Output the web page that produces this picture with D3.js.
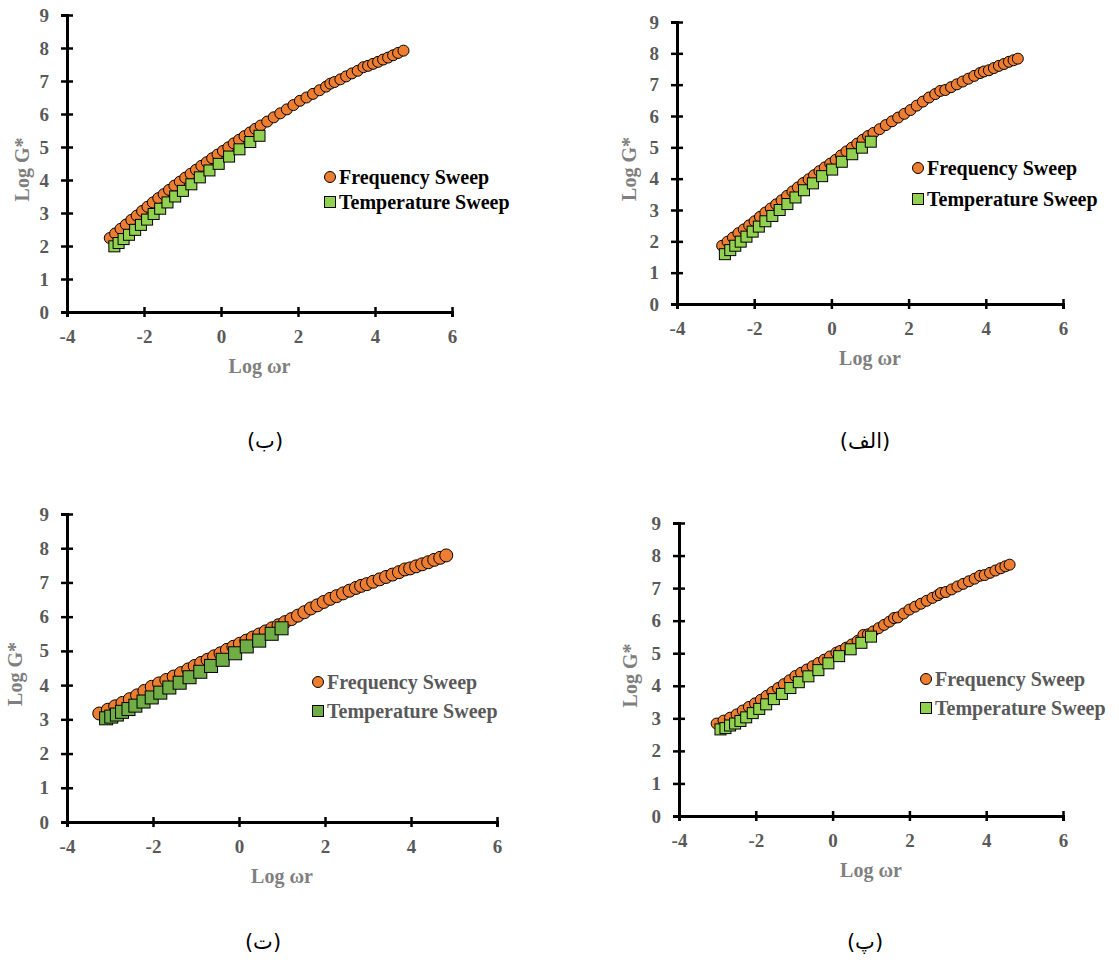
<!DOCTYPE html>
<html>
<head>
<meta charset="utf-8">
<script src="https://cdn.jsdelivr.net/npm/d3@7/dist/d3.min.js"></script>
<style>
  body { margin: 0; background: #fff; }
  svg { display: block; }
</style>
</head>
<body>
<svg id="chart" width="1119" height="965"></svg>
<script>
"use strict";

// ticks shared by all four panels
var xTicks = [-4, -2, 0, 2, 4, 6];
var yTicks = [0, 1, 2, 3, 4, 5, 6, 7, 8, 9];
var seriesNames = ["Frequency Sweep", "Temperature Sweep"];
var captions = ["(الف)", "(ب)", "(پ)", "(ت)"];

// panel (الف)
var alefFreqX = [-2.83, -2.69, -2.55, -2.41, -2.27, -2.13, -1.99, -1.85, -1.71, -1.57, -1.43, -1.29, -1.15, -1.01, -0.87, -0.73, -0.59, -0.45, -0.31, -0.17, -0.03, 0.11, 0.25, 0.39, 0.53, 0.67, 0.81, 0.95, 1.09, 1.25, 1.41, 1.57, 1.73, 1.89, 2.05, 2.21, 2.37, 2.53, 2.69, 2.82, 2.95, 3.10, 3.25, 3.40, 3.55, 3.70, 3.85, 3.95, 4.08, 4.21, 4.34, 4.47, 4.60, 4.72, 4.83];
var alefFreqY = [1.86, 1.99, 2.12, 2.26, 2.38, 2.51, 2.64, 2.78, 2.92, 3.05, 3.18, 3.31, 3.45, 3.59, 3.72, 3.86, 3.98, 4.11, 4.24, 4.36, 4.48, 4.60, 4.74, 4.87, 4.99, 5.12, 5.24, 5.36, 5.46, 5.58, 5.71, 5.83, 5.95, 6.07, 6.19, 6.33, 6.46, 6.59, 6.70, 6.80, 6.83, 6.92, 7.01, 7.10, 7.19, 7.28, 7.37, 7.42, 7.46, 7.53, 7.60, 7.66, 7.73, 7.78, 7.83];
var alefTempX = [-2.76, -2.62, -2.49, -2.35, -2.20, -2.04, -1.88, -1.71, -1.53, -1.34, -1.14, -0.93, -0.71, -0.48, -0.24, 0.02, 0.27, 0.54, 0.79, 1.02];
var alefTempY = [1.59, 1.72, 1.86, 1.99, 2.15, 2.31, 2.47, 2.64, 2.81, 3.00, 3.19, 3.40, 3.63, 3.85, 4.08, 4.29, 4.54, 4.78, 4.99, 5.18];

// panel (ب)
var beFreqX = [-2.89, -2.75, -2.61, -2.47, -2.33, -2.19, -2.05, -1.91, -1.77, -1.63, -1.49, -1.35, -1.21, -1.07, -0.93, -0.79, -0.65, -0.51, -0.37, -0.23, -0.09, 0.05, 0.19, 0.33, 0.47, 0.61, 0.75, 0.89, 1.03, 1.20, 1.37, 1.54, 1.71, 1.88, 2.05, 2.22, 2.39, 2.56, 2.73, 2.84, 2.95, 3.10, 3.25, 3.40, 3.55, 3.70, 3.82, 3.95, 4.08, 4.21, 4.34, 4.47, 4.60, 4.74];
var beFreqY = [2.24, 2.38, 2.52, 2.65, 2.79, 2.92, 3.06, 3.19, 3.32, 3.45, 3.57, 3.70, 3.83, 3.95, 4.07, 4.19, 4.31, 4.43, 4.54, 4.66, 4.77, 4.88, 4.99, 5.11, 5.22, 5.33, 5.44, 5.55, 5.65, 5.77, 5.90, 6.02, 6.14, 6.27, 6.40, 6.50, 6.61, 6.72, 6.83, 6.92, 6.97, 7.05, 7.14, 7.23, 7.31, 7.42, 7.46, 7.52, 7.58, 7.65, 7.71, 7.78, 7.85, 7.92];
var beTempX = [-2.77, -2.66, -2.53, -2.39, -2.23, -2.08, -1.92, -1.75, -1.58, -1.39, -1.19, -0.99, -0.77, -0.55, -0.30, -0.06, 0.21, 0.48, 0.76, 1.00];
var beTempY = [1.99, 2.09, 2.21, 2.34, 2.49, 2.64, 2.80, 2.97, 3.13, 3.32, 3.50, 3.67, 3.87, 4.08, 4.29, 4.49, 4.71, 4.93, 5.15, 5.34];

// panel (پ)
var peFreqX = [-3.02, -2.84, -2.67, -2.50, -2.34, -2.18, -2.02, -1.87, -1.72, -1.57, -1.42, -1.27, -1.12, -0.97, -0.82, -0.67, -0.52, -0.37, -0.22, -0.07, 0.10, 0.20, 0.35, 0.50, 0.65, 0.80, 0.92, 1.06, 1.20, 1.34, 1.48, 1.60, 1.70, 1.85, 2.00, 2.15, 2.30, 2.45, 2.60, 2.74, 2.82, 2.95, 3.10, 3.25, 3.40, 3.55, 3.70, 3.84, 3.96, 4.10, 4.24, 4.38, 4.50, 4.61];
var peFreqY = [2.84, 2.93, 3.02, 3.12, 3.24, 3.35, 3.46, 3.57, 3.69, 3.81, 3.93, 4.05, 4.17, 4.30, 4.40, 4.50, 4.60, 4.70, 4.80, 4.90, 5.02, 5.07, 5.17, 5.27, 5.38, 5.56, 5.58, 5.67, 5.77, 5.87, 5.97, 6.08, 6.10, 6.22, 6.34, 6.43, 6.52, 6.61, 6.70, 6.78, 6.85, 6.88, 6.96, 7.05, 7.13, 7.21, 7.29, 7.38, 7.40, 7.47, 7.54, 7.61, 7.67, 7.72];
var peTempX = [-2.92, -2.79, -2.67, -2.54, -2.40, -2.25, -2.08, -1.91, -1.73, -1.53, -1.32, -1.10, -0.88, -0.63, -0.37, -0.11, 0.17, 0.47, 0.75, 1.00];
var peTempY = [2.66, 2.70, 2.78, 2.84, 2.92, 3.03, 3.16, 3.29, 3.43, 3.59, 3.75, 3.93, 4.11, 4.29, 4.48, 4.69, 4.91, 5.12, 5.32, 5.51];

// panel (ت)
var teFreqX = [-3.25, -3.05, -2.88, -2.71, -2.54, -2.37, -2.20, -2.03, -1.86, -1.69, -1.52, -1.35, -1.18, -1.03, -0.88, -0.73, -0.58, -0.43, -0.28, -0.13, 0.02, 0.17, 0.32, 0.47, 0.62, 0.77, 0.92, 1.07, 1.22, 1.37, 1.52, 1.67, 1.82, 1.97, 2.12, 2.27, 2.42, 2.57, 2.72, 2.84, 2.97, 3.12, 3.27, 3.42, 3.57, 3.72, 3.86, 3.98, 4.12, 4.26, 4.40, 4.54, 4.68, 4.82];
var teFreqY = [3.17, 3.28, 3.38, 3.48, 3.59, 3.70, 3.83, 3.95, 4.05, 4.15, 4.25, 4.35, 4.46, 4.56, 4.65, 4.74, 4.84, 4.93, 5.03, 5.12, 5.21, 5.30, 5.39, 5.48, 5.57, 5.66, 5.75, 5.84, 5.93, 6.03, 6.13, 6.24, 6.33, 6.43, 6.52, 6.60, 6.68, 6.76, 6.84, 6.90, 6.95, 7.02, 7.09, 7.16, 7.23, 7.30, 7.38, 7.41, 7.47, 7.53, 7.59, 7.66, 7.72, 7.79];
var teTempX = [-3.09, -2.97, -2.84, -2.72, -2.57, -2.41, -2.22, -2.03, -1.83, -1.62, -1.38, -1.15, -0.90, -0.65, -0.38, -0.09, 0.18, 0.47, 0.76, 0.99];
var teTempY = [3.03, 3.08, 3.14, 3.22, 3.30, 3.40, 3.52, 3.64, 3.78, 3.93, 4.07, 4.23, 4.39, 4.56, 4.74, 4.93, 5.13, 5.30, 5.50, 5.66];

var svg = d3.select("#chart");
var serif = "'Liberation Serif', 'Times New Roman', serif";

function zip(xs, ys) {
    return xs.map(function(x, i) { return {x: x, y: ys[i]}; });
}

function drawPanel(p) {
    var x = d3.scaleLinear().domain([-4, 6]).range([p.left, p.right]);
    var y = d3.scaleLinear().domain([0, 9]).range([p.bottom, p.top]);
    var g = svg.append("g");
    var plain = function(d) { return String(d); };  // hyphen minus, like the original

    // axes (ticks cross the axis line like Excel)
    var gx = g.append("g").attr("transform", "translate(0," + p.bottom + ")")
        .call(d3.axisBottom(x).tickValues(xTicks).tickFormat(plain).tickSizeOuter(0).tickSize(5).tickPadding(13));
    var gy = g.append("g").attr("transform", "translate(" + p.left + ",0)")
        .call(d3.axisLeft(y).tickValues(yTicks).tickFormat(plain).tickSizeOuter(0).tickSize(6).tickPadding(12));
    gx.selectAll(".tick line").attr("y1", -5).attr("y2", 5);
    gy.selectAll(".tick line").attr("x1", -6).attr("x2", 6);
    [gx, gy].forEach(function(a) {
        a.attr("font-family", serif).attr("font-size", 19);
        a.select(".domain").attr("stroke", "#000").attr("stroke-width", 3);
        a.selectAll(".tick line").attr("stroke", "#000").attr("stroke-width", 2.5);
        a.selectAll(".tick text")
            .attr("fill", "#595959")
            .style("font-family", serif)
            .style("font-weight", "bold")
            .style("font-size", "19px");
    });

    // axis titles
    g.append("text")
        .attr("x", (p.left + p.right) / 2).attr("y", p.bottom + 61)
        .attr("text-anchor", "middle").attr("fill", "#7f7f7f")
        .style("font-family", serif).style("font-weight", "bold").style("font-size", "20px")
        .text("Log ωr");
    g.append("text")
        .attr("transform", "translate(" + (p.left - p.titleDx) + "," + ((p.top + p.bottom) / 2 + 6) + ") rotate(-90)")
        .attr("text-anchor", "middle").attr("dy", "0.35em").attr("fill", "#7f7f7f")
        .style("font-family", serif).style("font-weight", "bold").style("font-size", "20px")
        .text("Log G*");

    // data marks
    g.append("g").selectAll("circle").data(zip(p.freqX, p.freqY)).enter().append("circle")
        .attr("cx", function(d) { return x(d.x); })
        .attr("cy", function(d) { return y(d.y); })
        .attr("r", p.r)
        .attr("fill", "#ED7D31").attr("stroke", "#000").attr("stroke-width", 1);
    g.append("g").selectAll("rect").data(zip(p.tempX, p.tempY)).enter().append("rect")
        .attr("x", function(d) { return x(d.x) - p.sq / 2; })
        .attr("y", function(d) { return y(d.y) - p.sq / 2; })
        .attr("width", p.sq).attr("height", p.sq)
        .attr("fill", p.green).attr("stroke", "#000").attr("stroke-width", 1);

    // legend
    var lg = g.append("g").attr("transform", "translate(" + p.legX + "," + p.legY + ")");
    lg.append("circle").attr("cx", 0).attr("cy", 0).attr("r", 5.5)
        .attr("fill", "#ED7D31").attr("stroke", "#000").attr("stroke-width", 1);
    lg.append("rect").attr("x", -5.5).attr("y", p.legGap - 5.5).attr("width", 11).attr("height", 11)
        .attr("fill", p.green).attr("stroke", "#000").attr("stroke-width", 1);
    lg.selectAll("text").data(seriesNames).enter().append("text")
        .attr("x", 9)
        .attr("y", function(d, i) { return i * p.legGap + 7; })
        .attr("fill", p.legColor)
        .style("font-family", serif).style("font-weight", "bold").style("font-size", "20px")
        .text(function(d) { return d; });

    // caption
    svg.append("text")
        .attr("x", p.capX).attr("y", p.capY)
        .attr("text-anchor", "middle").attr("fill", "#000")
        .style("font-family", "'DejaVu Sans', sans-serif").style("font-size", "21px")
        .text(p.caption);
}

drawPanel({
    left: 677, right: 1063, top: 22, bottom: 304, titleDx: 48,
    freqX: alefFreqX, freqY: alefFreqY, tempX: alefTempX, tempY: alefTempY,
    r: 5.5, sq: 11, green: "#92D050",
    legX: 918, legY: 168, legGap: 31, legColor: "#000",
    caption: captions[0], capX: 865, capY: 448
});
drawPanel({
    left: 67, right: 452, top: 15, bottom: 312, titleDx: 45,
    freqX: beFreqX, freqY: beFreqY, tempX: beTempX, tempY: beTempY,
    r: 5.5, sq: 11, green: "#92D050",
    legX: 330, legY: 177, legGap: 25, legColor: "#000",
    caption: captions[1], capX: 265, capY: 448
});
drawPanel({
    left: 679, right: 1063, top: 523, bottom: 816, titleDx: 49,
    freqX: peFreqX, freqY: peFreqY, tempX: peTempX, tempY: peTempY,
    r: 5.5, sq: 11, green: "#92D050",
    legX: 926, legY: 679, legGap: 29, legColor: "#595959",
    caption: captions[2], capX: 865, capY: 949
});
drawPanel({
    left: 67, right: 497, top: 514, bottom: 822, titleDx: 52,
    freqX: teFreqX, freqY: teFreqY, tempX: teTempX, tempY: teTempY,
    r: 6.5, sq: 13, green: "#70AD47",
    legX: 318, legY: 682, legGap: 29, legColor: "#595959",
    caption: captions[3], capX: 263, capY: 949
});
</script>
</body>
</html>
